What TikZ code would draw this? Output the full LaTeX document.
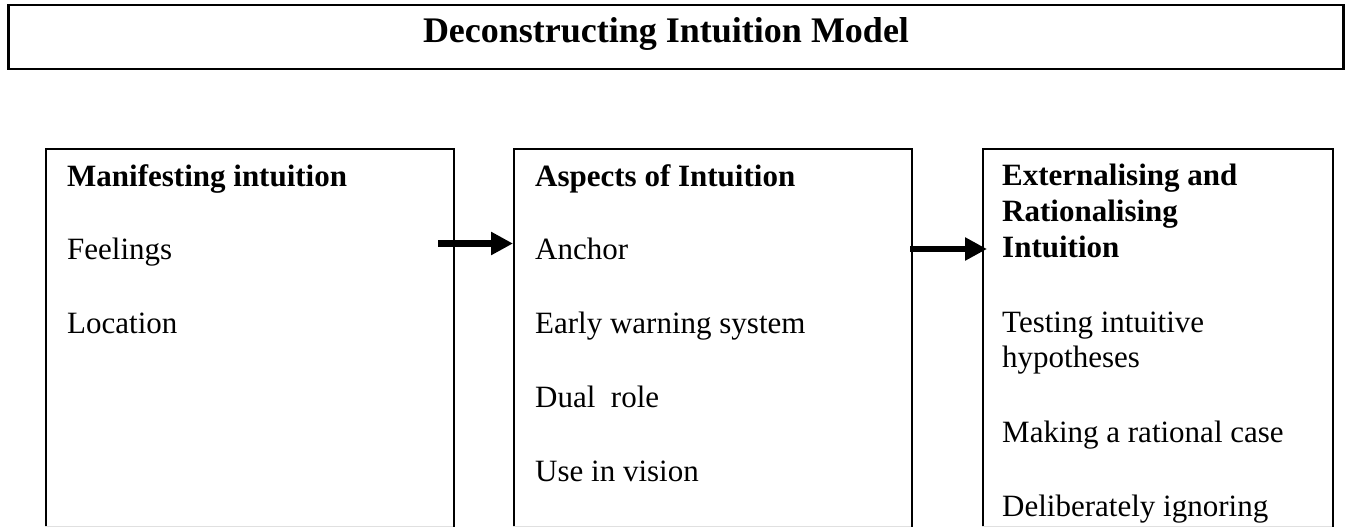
\documentclass[tikz,border=0pt]{standalone}
\usepackage{fontspec}
\setmainfont{Liberation Serif}
\usetikzlibrary{arrows.meta}
\begin{document}
\begin{tikzpicture}[x=1pt,y=-1pt,
  box/.style={draw=black, line width=2pt, inner sep=0pt, anchor=north west},
  body/.style={anchor=base west, inner sep=0pt, font=\fontsize{31}{35}\selectfont},
  head/.style={anchor=base west, inner sep=0pt, font=\fontsize{31}{35}\selectfont\bfseries},
  arr/.style={line width=6.5pt, -{Triangle[length=22pt,width=22pt]}},
  faint/.style={draw=black!12, line width=1pt}]
\useasboundingbox (0,0) rectangle (1347,527);
% title
\node[box, line width=2.5pt, minimum width=1335pt, minimum height=64pt] (title) at (7,4) {};
\node[anchor=base, inner sep=0pt, font=\fontsize{36}{40}\selectfont\bfseries] (ttext) at (666,43) {Deconstructing Intuition Model};
% boxes
\node[box, minimum width=408pt, minimum height=420pt] (lbox) at (45,148) {};
\node[box, minimum width=398pt, minimum height=420pt] (mbox) at (513,148) {};
\node[box, minimum width=350pt, minimum height=420pt] (rbox) at (982,148) {};
\draw[faint] (45,526) -- (453,526);
\draw[faint] (513,526) -- (911,526);
\draw[faint] (982,526) -- (1332,526);
% left texts
\node[head] (l1) at (67,186) {Manifesting intuition};
\node[body] (l2) at (67,259) {Feelings};
\node[body] (l3) at (67,333) {Location};
% middle texts
\node[head] (m1) at (535,186) {Aspects of Intuition};
\node[body] (m2) at (535,259) {Anchor};
\node[body] (m3) at (535,333) {Early warning system};
\node[body] (m4) at (535,407) {Dual\ \ role};
\node[body] (m5) at (535,481) {Use in vision};
% right texts
\node[head] (r1) at (1002,185) {Externalising and};
\node[head] (r2) at (1002,221) {Rationalising};
\node[head] (r3) at (1002,257) {Intuition};
\node[body] (r4) at (1002,332) {Testing intuitive};
\node[body] (r5) at (1002,367) {hypotheses};
\node[body] (r6) at (1002,442) {Making a rational case};
\node[body] (r7) at (1002,516) {Deliberately ignoring};
% arrows
\coordinate (a1) at (438,243.5);
\coordinate (a2) at (910,249);
\draw[arr] (a1) -- (a1 -| mbox.west);
\draw[arr, shorten >=-5pt] (a2) -- (a2 -| rbox.west);
\end{tikzpicture}
\end{document}
